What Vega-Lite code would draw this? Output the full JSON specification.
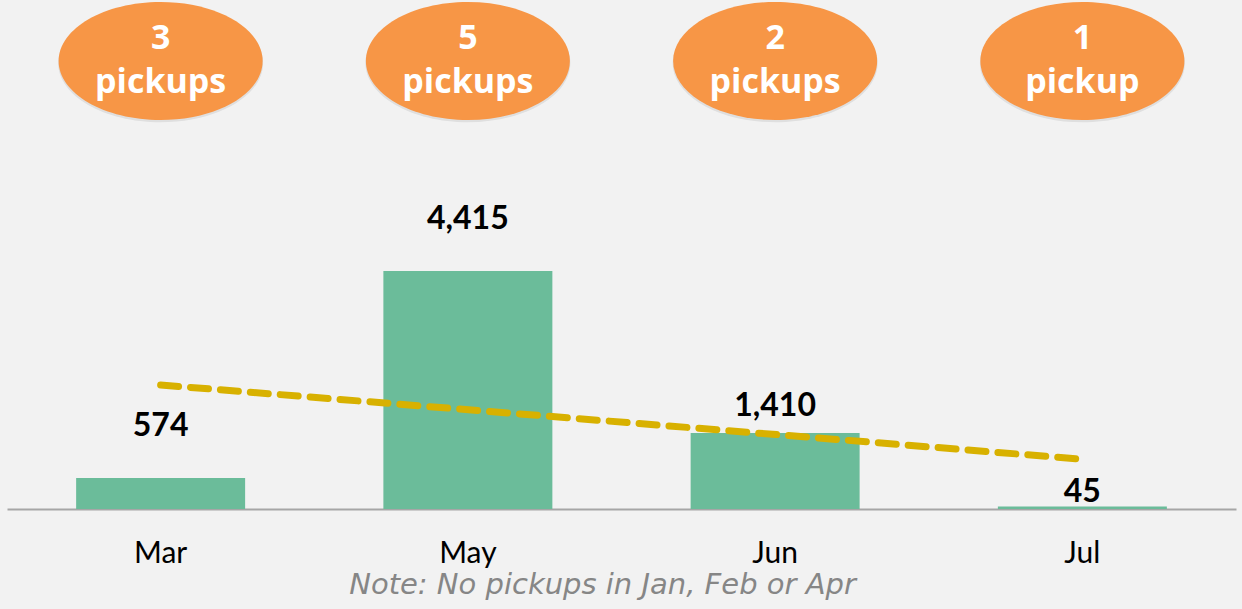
{
  "$schema": "https://vega.github.io/schema/vega-lite/v6.json",
  "width": 1229,
  "height": 509,
  "autosize": {"type": "none"},
  "padding": {"left": 7, "top": 0, "right": 6, "bottom": 100},
  "background": "#f2f2f2",
  "config": {
    "view": {"stroke": null},
    "font": "Lato"
  },
  "datasets": {
    "bars": [
      {"month": "Mar", "weight": 574, "label": "574", "pickups": 3, "pickupText": "3\npickups"},
      {"month": "May", "weight": 4415, "label": "4,415", "pickups": 5, "pickupText": "5\npickups"},
      {"month": "Jun", "weight": 1410, "label": "1,410", "pickups": 2, "pickupText": "2\npickups"},
      {"month": "Jul", "weight": 45, "label": "45", "pickups": 1, "pickupText": "1\npickup"}
    ],
    "trend": [
      {"month": "Mar", "trend": 2300},
      {"month": "Jul", "trend": 923}
    ]
  },
  "encoding": {
    "x": {
      "field": "month",
      "type": "nominal",
      "scale": {"domain": ["Mar", "May", "Jun", "Jul"], "paddingInner": 0.45, "paddingOuter": 0.225},
      "axis": {
        "title": "Note: No pickups in Jan, Feb or Apr",
        "titleFont": "DejaVu Sans",
        "titleFontStyle": "italic",
        "titleFontWeight": "normal",
        "titleFontSize": 29,
        "titleColor": "#868686",
        "titlePadding": 2,
        "titleX": 595,
        "labelAngle": 0,
        "labelFontSize": 30,
        "labelColor": "#000000",
        "labelPadding": 29,
        "ticks": false,
        "domainColor": "#a6a6a6",
        "domainWidth": 2,
        "grid": false
      }
    }
  },
  "layer": [
    {
      "data": {"name": "bars"},
      "mark": {"type": "bar", "color": "#6bbc9a"},
      "encoding": {
        "y": {"field": "weight", "type": "quantitative", "scale": {"domain": [0, 9440], "nice": false}, "axis": null}
      }
    },
    {
      "data": {"name": "bars"},
      "transform": [{"filter": "datum.month == 'Mar' || datum.month == 'May'"}],
      "mark": {"type": "text", "fontSize": 32, "fontWeight": "bold", "color": "#000000", "baseline": "alphabetic", "dy": -42},
      "encoding": {
        "y": {"field": "weight", "type": "quantitative"},
        "text": {"field": "label"}
      }
    },
    {
      "data": {"name": "bars"},
      "transform": [{"filter": "datum.month == 'Jun'"}],
      "mark": {"type": "text", "fontSize": 32, "fontWeight": "bold", "color": "#000000", "baseline": "alphabetic", "dy": -17},
      "encoding": {
        "y": {"field": "weight", "type": "quantitative"},
        "text": {"field": "label"}
      }
    },
    {
      "data": {"name": "bars"},
      "transform": [{"filter": "datum.month == 'Jul'"}],
      "mark": {"type": "text", "fontSize": 32, "fontWeight": "bold", "color": "#000000", "baseline": "alphabetic", "dy": -5},
      "encoding": {
        "y": {"field": "weight", "type": "quantitative"},
        "text": {"field": "label"}
      }
    },
    {
      "data": {"name": "trend"},
      "mark": {"type": "line", "color": "#d8b100", "strokeWidth": 7, "strokeDash": [18, 12], "strokeCap": "round"},
      "encoding": {
        "y": {"field": "trend", "type": "quantitative"}
      }
    },
    {
      "data": {"name": "bars"},
      "mark": {
        "type": "point",
        "shape": "M -1 0 A 1 0.578 0 1 1 1 0 A 1 0.578 0 1 1 -1 0 Z",
        "size": 42025,
        "filled": true,
        "color": "#000000",
        "opacity": 0.08
      },
      "encoding": {
        "y": {"datum": 8270, "type": "quantitative"}
      }
    },
    {
      "data": {"name": "bars"},
      "mark": {
        "type": "point",
        "shape": "M -1 0 A 1 0.578 0 1 1 1 0 A 1 0.578 0 1 1 -1 0 Z",
        "size": 41616,
        "filled": true,
        "color": "#f79646",
        "opacity": 1
      },
      "encoding": {
        "y": {"datum": 8309, "type": "quantitative"}
      }
    },
    {
      "data": {"name": "bars"},
      "mark": {"type": "text", "font": "Open Sans", "fontSize": 34, "fontWeight": "bold", "color": "#ffffff", "baseline": "middle", "lineBreak": "\n", "lineHeight": 44, "dy": -22},
      "encoding": {
        "y": {"datum": 8309, "type": "quantitative"},
        "text": {"field": "pickupText"}
      }
    }
  ]
}
